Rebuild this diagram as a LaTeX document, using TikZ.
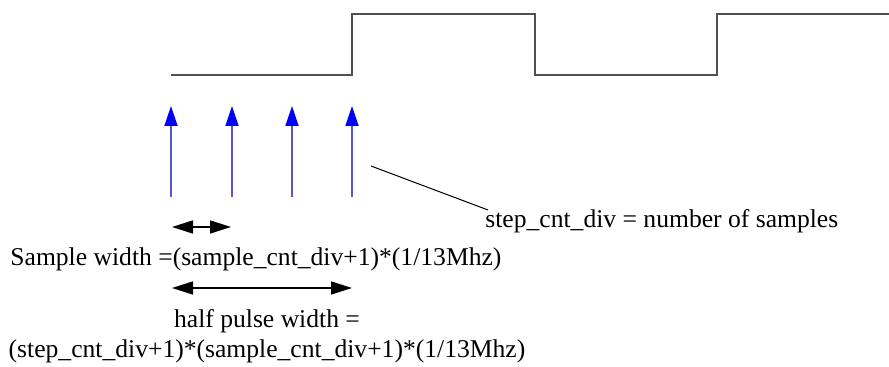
\documentclass[tikz,border=0pt]{standalone}
\usepackage{fontspec}
\setmainfont{Liberation Serif}
\usetikzlibrary{arrows.meta}
\definecolor{wave}{RGB}{80,80,80}
\definecolor{samplinecol}{RGB}{85,85,205}
\begin{document}
\begin{tikzpicture}[x=0.5pt,y=-0.5pt,
  wavestyle/.style={draw=wave,line width=1pt},
  samplearrow/.style={draw=samplinecol,line width=0.9pt,-{Triangle[length=10pt,width=6.5pt,fill=blue,color=blue]}},
  dimarrow/.style={draw=black,line width=0.75pt,{Triangle[length=10.5pt,width=6.5pt]}-{Triangle[length=10.5pt,width=6.5pt]}},
  leader/.style={draw=black,line width=0.5pt},
  lbl/.style={inner sep=0pt,font=\fontsize{12.8}{15}\selectfont}]
\useasboundingbox (0,0) rectangle (889,367);
% waveform
\coordinate (w0) at (171,75);
\coordinate (w1) at (352,75);
\coordinate (w2) at (352,14);
\coordinate (w3) at (535,14);
\coordinate (w4) at (535,75);
\coordinate (w5) at (717,75);
\coordinate (w6) at (717,14);
\coordinate (w7) at (889,14);
\draw[wavestyle] (w0) -- (w1) -- (w2) -- (w3) -- (w4) -- (w5) -- (w6) -- (w7);
% sample arrows
\foreach \i/\x in {1/171,2/232,3/292,4/352}{
  \coordinate (sb\i) at (\x,197);
  \coordinate (st\i) at (\x,106);
  \draw[samplearrow] (sb\i) -- (st\i);
}
% leader line and label
\node[lbl,anchor=base west] (stepnote) at (485,228) {step\_cnt\_div = number of samples};
\coordinate (leadstart) at (371,166);
\coordinate (leadend) at (488,210);
\draw[leader] (leadstart) -- (leadend);
% sample width
\coordinate (swl) at (172,227);
\coordinate (swr) at (231,227);
\draw[dimarrow] (swl) -- (swr);
\node[lbl,anchor=base west] (swtext) at (10,266) {Sample width =(sample\_cnt\_div+1)*(1/13Mhz)};
% half pulse width
\coordinate (hpl) at (172,288);
\coordinate (hpr) at (352,288);
\draw[dimarrow] (hpl) -- (hpr);
\node[lbl,anchor=base] (hptext1) at (267,328) {half pulse width =};
\node[lbl,anchor=base] (hptext2) at (267,358) {(step\_cnt\_div+1)*(sample\_cnt\_div+1)*(1/13Mhz)};
\end{tikzpicture}
\end{document}
